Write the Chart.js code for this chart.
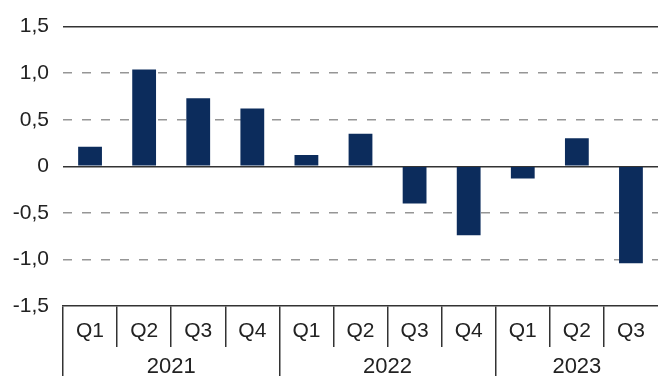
<!DOCTYPE html>
<html>
<head>
<meta charset="utf-8">
<script src="https://cdn.jsdelivr.net/npm/chart.js@4.4.1/dist/chart.umd.min.js"></script>
<style>
  html, body { margin: 0; padding: 0; background: #ffffff; }
  #wrap { width: 658px; height: 376px; position: relative; }
</style>
</head>
<body>
<div id="wrap"><canvas id="c" width="658" height="376"></canvas></div>
<script>
// ---- data ----
const quarters = ['Q1','Q2','Q3','Q4','Q1','Q2','Q3','Q4','Q1','Q2','Q3'];
const values = [0.21, 1.04, 0.73, 0.62, 0.12, 0.35, -0.40, -0.74, -0.13, 0.30, -1.04];
const years = ['2021', '2022', '2023'];
const yearCentres = [1.5, 5.5, 9];
const yearBounds = [-0.5, 3.5, 7.5, 10.5];
const yTickValues = [-1.5, -1.0, -0.5, 0, 0.5, 1.0, 1.5];
const yTickLabels = ['-1,5', '-1,0', '-0,5', '0', '0,5', '1,0', '1,5'];

const FONT = 'Liberation Sans';
const TXT = '#222222';
const LINE = '#333333';

new Chart(document.getElementById('c'), {
  type: 'bar',
  data: {
    labels: quarters,
    datasets: [{
      data: values,
      backgroundColor: '#0c2c5c',
      borderWidth: 0,
      categoryPercentage: 1.0,
      barPercentage: 0.44
    }]
  },
  options: {
    responsive: false,
    animation: false,
    events: [],
    layout: { padding: { top: 15, right: 0, bottom: 0, left: 0 } },
    plugins: { legend: { display: false }, tooltip: { enabled: false } },
    scales: {
      y: {
        position: 'left',
        min: -1.5, max: 1.5,
        afterBuildTicks: s => { s.ticks = yTickValues.map(v => ({ value: v })); },
        afterFit: s => { s.width = 63; },
        ticks: {
          padding: 14,
          color: TXT,
          font: { family: FONT, size: 21 },
          callback: v => yTickLabels[yTickValues.indexOf(v)]
        },
        grid: {
          drawTicks: false,
          lineWidth: 1.5,
          color: ctx => (ctx.tick && Math.abs(ctx.tick.value) > 0.1 && Math.abs(ctx.tick.value) < 1.4) ? '#969696' : 'rgba(0,0,0,0)'
        },
        border: { display: false, dash: [9, 10] }
      },
      y2: {
        position: 'left',
        min: -1.5, max: 1.5,
        afterBuildTicks: s => { s.ticks = [{ value: 1.5 }, { value: 0 }]; },
        afterFit: s => { s.width = 0; },
        ticks: { display: false },
        grid: { drawTicks: false, lineWidth: 1.5, color: LINE },
        border: { display: false }
      },
      x: {
        position: 'bottom',
        weight: 0,
        afterFit: s => { s.height = 41; },
        ticks: {
          padding: -28,
          color: TXT,
          autoSkip: false,
          maxRotation: 0,
          font: { family: FONT, size: 21 }
        },
        grid: {
          offset: true,
          drawOnChartArea: false,
          drawTicks: true,
          tickLength: 41,
          lineWidth: 1.5,
          color: ctx => ctx.type === 'tick' ? LINE : 'rgba(0,0,0,0)'
        },
        border: { display: true, color: LINE, width: 1.5 }
      },
      years: {
        type: 'linear',
        position: 'bottom',
        weight: 1,
        offset: false,
        min: -0.5, max: 10.5,
        afterBuildTicks: s => {
          s.ticks = yearBounds.concat(yearCentres).sort((a, b) => a - b).map(v => ({ value: v }));
        },
        afterFit: s => { s.height = 29; },
        ticks: {
          padding: -33,
          color: TXT,
          autoSkip: false,
          maxRotation: 0,
          font: { family: FONT, size: 22 },
          callback: v => { const i = yearCentres.indexOf(v); return i >= 0 ? years[i] : ''; }
        },
        grid: {
          offset: false,
          drawOnChartArea: false,
          drawTicks: true,
          tickLength: 40,
          lineWidth: 1.5,
          color: ctx => (ctx.tick && yearBounds.indexOf(ctx.tick.value) >= 0 && ctx.tick.value < 10) ? LINE : 'rgba(0,0,0,0)'
        },
        border: { display: false }
      }
    }
  }
});
</script>
</body>
</html>
